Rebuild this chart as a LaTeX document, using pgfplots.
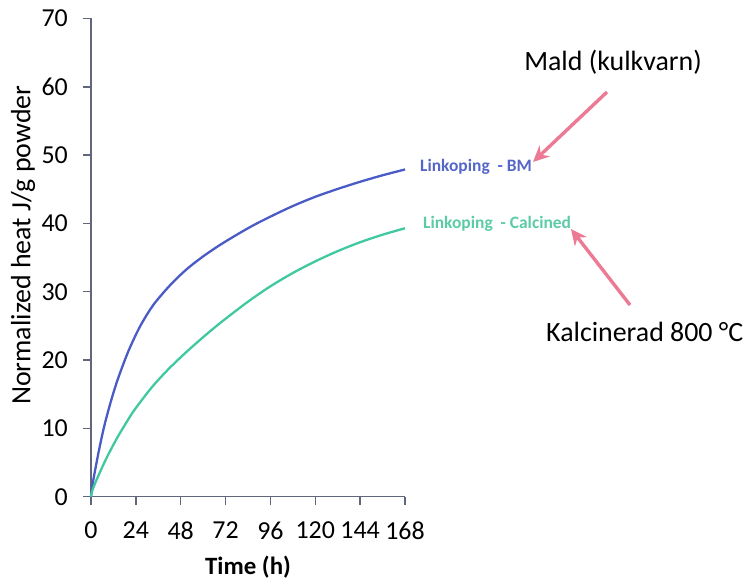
\documentclass[border=0pt]{standalone}
\usepackage{fontspec}
\setmainfont{Carlito}
\usepackage{pgfplots}
\pgfplotsset{compat=1.18}
\usetikzlibrary{arrows.meta}
\definecolor{cblue}{HTML}{4A5BC6}
\definecolor{cgreen}{HTML}{40C9A0}
\definecolor{lblue}{HTML}{5466C8}
\definecolor{lgreen}{HTML}{5ACBA6}
\definecolor{cpink}{HTML}{EC7A95}
\definecolor{caxis}{HTML}{62667C}
\pgfplotstableread{
t v
0 0
0.4 0.9
1.2 2.4
2.5 4.3
3.9 6.3
5.5 8.4
7.5 10.8
11 14.3
14.6 17.4
20 21.3
26.2 24.9
33.3 28.05
42.3 30.95
51.2 33.3
60.1 35.2
69 36.85
78 38.35
87 39.75
96 41.0
108 42.55
120 43.9
132 45.05
144 46.1
156 47.05
168 47.9
}\bm
\pgfplotstableread{
t v
0 0
0.5 0.7
2.1 1.9
4 3.1
7.5 5.2
11 7.1
14.6 8.9
19 10.9
23.5 12.8
32.5 16.0
41 18.55
50.3 21.0
58.3 22.95
65.4 24.6
72 26.05
84 28.55
96 30.8
108 32.75
120 34.45
132 35.95
144 37.25
156 38.35
168 39.3
}\calc
\begin{document}
\begin{tikzpicture}
\useasboundingbox (-91bp,-84.3bp) rectangle (657bp,496.7bp);
\begin{axis}[
  scale only axis,
  width=314bp, height=478.2bp,
  xmin=0, xmax=168, ymin=0, ymax=70,
  axis x line*=bottom, axis y line*=left,
  axis line style={caxis, line width=1.4bp},
  every tick/.style={caxis, line width=1.4bp},
  tick align=outside,
  major tick length=8bp,
  xtick={0,24,...,168}, ytick={0,10,...,70},
  /pgf/number format/assume math mode=true,
  ticklabel style={font=\fontsize{26}{26}\selectfont, text=black},
  yticklabel style={inner xsep=0pt, xshift=-15bp},
  xticklabel style={inner ysep=0pt, yshift=-17bp},
  xlabel={\textbf{Time (h)}},
  ylabel={Normalized heat J/g powder},
  every axis x label/.style={at={(axis description cs:0.5,-0.148)}, anchor=center, font=\fontsize{25}{25}\selectfont},
  every axis y label/.style={at={(axis description cs:-0.2166,0.526)}, anchor=center, rotate=90, font=\fontsize{28}{28}\selectfont},
  clip=false,
]
\addplot[cblue, line width=2.3bp, smooth] table[x=t,y=v] {\bm};
\addplot[cgreen, line width=2.3bp, smooth] table[x=t,y=v] {\calc};
\end{axis}
\node[anchor=west, inner sep=0pt, text=lblue, font=\fontsize{17.5}{17.5}\selectfont\bfseries] at (329bp,329.7bp) {Linkoping\ \ - BM};
\node[anchor=west, inner sep=0pt, text=lgreen, font=\fontsize{17.5}{17.5}\selectfont\bfseries] at (332bp,272.7bp) {Linkoping\ \ - Calcined};
\node[anchor=center, inner sep=0pt, font=\fontsize{28}{28}\selectfont] at (522bp,434.7bp) {Mald (kulkvarn)};
\node[anchor=west, inner sep=0pt, font=\fontsize{28}{28}\selectfont] at (455bp,164.7bp) {Kalcinerad 800 °C};
\draw[cpink, line width=3.4bp, -{Stealth[length=16bp,width=15bp]}] (516bp,404.7bp) -- (442bp,334.7bp);
\draw[cpink, line width=3.4bp, -{Stealth[length=16bp,width=15bp]}] (539bp,191.7bp) -- (480bp,267.7bp);
\end{tikzpicture}
\end{document}
